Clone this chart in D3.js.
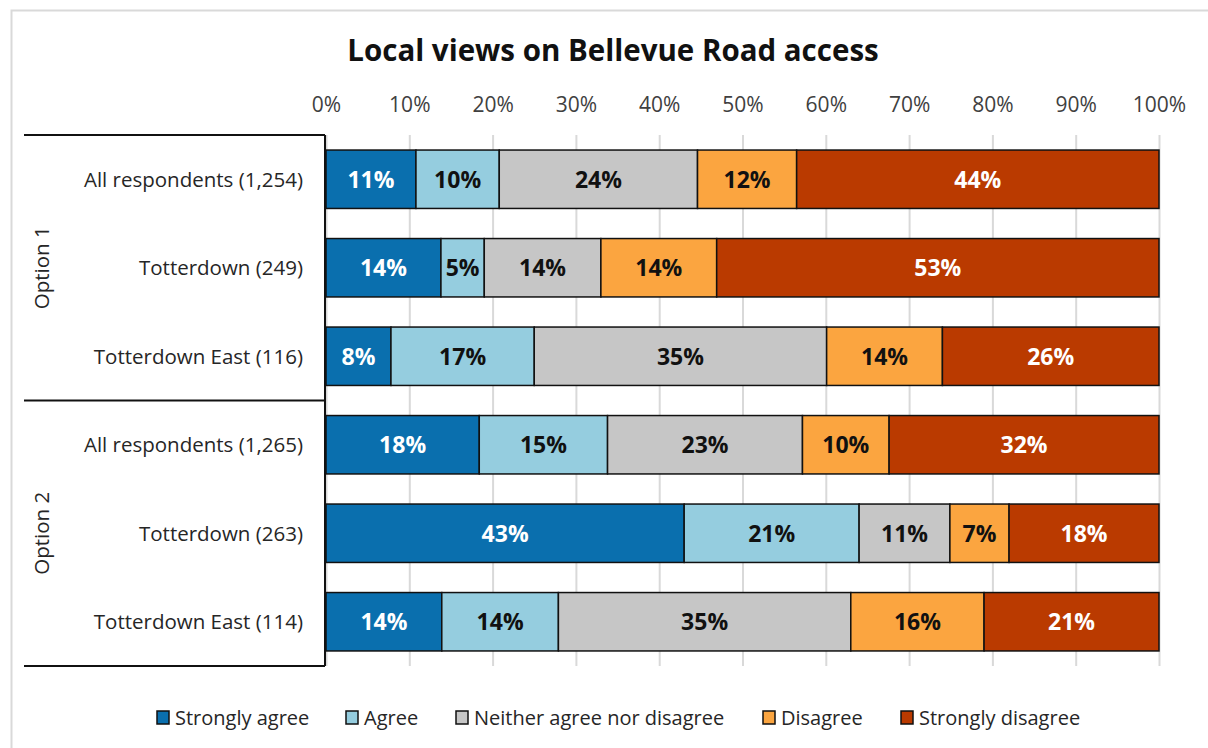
<!DOCTYPE html>
<html>
<head>
<meta charset="utf-8">
<script src="https://cdn.jsdelivr.net/npm/d3@7"></script>
<style>
  body { margin: 0; background: #fff; }
  svg text { font-family: "Open Sans", Lato, sans-serif; }
</style>
</head>
<body>
<div id="chart"></div>
<script>
// data
var rows = ["All respondents (1,254)", "Totterdown (249)", "Totterdown East (116)",
            "All respondents (1,265)", "Totterdown (263)", "Totterdown East (114)"];
var groups = ["Option 1", "Option 2"];
var seriesNames = ["Strongly agree", "Agree", "Neither agree nor disagree", "Disagree", "Strongly disagree"];
var stronglyAgree = [10.8, 13.8, 7.8, 18.4, 43.0, 13.9];
var agree = [10.0, 5.2, 17.2, 15.4, 21.0, 14.0];
var neither = [23.8, 14.0, 35.1, 23.4, 10.9, 35.1];
var disagree = [11.9, 13.9, 13.9, 10.4, 7.1, 16.0];
var stronglyDisagree = [43.5, 53.1, 26.0, 32.4, 18.0, 21.0];
var ticks = [0, 10, 20, 30, 40, 50, 60, 70, 80, 90, 100];

var colors = ["#0a6fae", "#95cddf", "#c6c6c6", "#fba540", "#ba3a00"];
var labelColors = ["#fff", "#111", "#111", "#111", "#fff"];

var svgWidth = 1208, svgHeight = 748;
var plot = { left: 326, right: 1159, top: 135, bottom: 666 };

var svg = d3.select("#chart").append("svg")
  .attr("width", svgWidth)
  .attr("height", svgHeight);

// chart frame
svg.append("rect")
  .attr("x", 11.5).attr("y", 10.5)
  .attr("width", 1220).attr("height", 760)
  .attr("fill", "#fff").attr("stroke", "#d9d9d9").attr("stroke-width", 2);

svg.append("text")
  .attr("x", 613).attr("y", 61)
  .attr("text-anchor", "middle")
  .attr("font-size", "29.5px").attr("font-weight", "bold")
  .attr("fill", "#111")
  .text("Local views on Bellevue Road access");

var x = d3.scaleLinear().domain([0, 100]).range([plot.left, plot.right]);
var y = d3.scaleBand().domain(rows).range([plot.top, plot.bottom])
  .paddingInner(0.34).paddingOuter(0.17);

// top axis + gridlines
var xAxis = d3.axisTop(x)
  .tickValues(ticks)
  .tickFormat(d => d + "%")
  .tickSizeInner(-(plot.bottom - plot.top))
  .tickSizeOuter(0)
  .tickPadding(23);

var ax = svg.append("g")
  .attr("transform", `translate(0, ${plot.top})`)
  .call(xAxis);
ax.select(".domain").remove();
ax.selectAll(".tick line").attr("stroke", "#d9d9d9").attr("stroke-width", 2);
ax.selectAll(".tick text")
  .attr("font-size", "21px").attr("fill", "#404040")
  .attr("font-family", "'Open Sans', Lato, sans-serif");

// stacked bars
var table = rows.map(function(r, i) {
  return { row: r, vals: [stronglyAgree[i], agree[i], neither[i], disagree[i], stronglyDisagree[i]] };
});

var stack = d3.stack().keys([0, 1, 2, 3, 4]).value((d, k) => d.vals[k]);
var layers = stack(table);

var layerG = svg.selectAll(".layer").data(layers).enter()
  .append("g").attr("class", "layer");

layerG.selectAll("rect").data(d => d).enter()
  .append("rect")
  .attr("x", d => x(d[0]))
  .attr("y", d => y(d.data.row))
  .attr("width", d => x(d[1]) - x(d[0]))
  .attr("height", y.bandwidth())
  .attr("fill", function() { return colors[d3.select(this.parentNode).datum().key]; })
  .attr("stroke", "#111")
  .attr("stroke-width", 1.5);

layerG.selectAll("text").data(d => d).enter()
  .append("text")
  .attr("x", d => (x(d[0]) + x(d[1])) / 2)
  .attr("y", d => y(d.data.row) + y.bandwidth() / 2)
  .attr("dy", "0.36em")
  .attr("text-anchor", "middle")
  .attr("font-size", "23px").attr("font-weight", "bold")
  .attr("fill", function() { return labelColors[d3.select(this.parentNode).datum().key]; })
  .text(d => Math.round(d[1] - d[0]) + "%");

// category labels
svg.selectAll(".rowLabel").data(rows).enter()
  .append("text")
  .attr("class", "rowLabel")
  .attr("x", 303)
  .attr("y", d => y(d) + y.bandwidth() / 2)
  .attr("dy", "0.36em")
  .attr("text-anchor", "end")
  .attr("font-size", "20.5px").attr("fill", "#262626")
  .text(d => d);

// group brackets
var half = (plot.bottom - plot.top) / 2;
var lines = [plot.top, plot.top + half, plot.bottom];
svg.selectAll(".sep").data(lines).enter()
  .append("line")
  .attr("x1", 24).attr("x2", plot.left - 1)
  .attr("y1", d => d).attr("y2", d => d)
  .attr("stroke", "#111").attr("stroke-width", 2);

svg.append("line")
  .attr("x1", plot.left - 1).attr("x2", plot.left - 1)
  .attr("y1", plot.top).attr("y2", plot.bottom)
  .attr("stroke", "#111").attr("stroke-width", 2);

svg.selectAll(".group").data(groups).enter()
  .append("text")
  .attr("transform", (d, i) => `translate(42, ${plot.top + half * i + half / 2}) rotate(-90)`)
  .attr("dy", "0.36em")
  .attr("text-anchor", "middle")
  .attr("font-size", "20.5px").attr("fill", "#262626")
  .text(d => d);

// legend
var legendX = [157, 346, 456, 763, 901];
var leg = svg.selectAll(".leg").data(seriesNames).enter()
  .append("g")
  .attr("transform", (d, i) => `translate(${legendX[i]}, 718)`);

leg.append("rect")
  .attr("x", 0).attr("y", -7)
  .attr("width", 12).attr("height", 13)
  .attr("fill", (d, i) => colors[i])
  .attr("stroke", "#111").attr("stroke-width", 1.5);

leg.append("text")
  .attr("x", 18)
  .attr("dy", "0.36em")
  .attr("font-size", "20px").attr("fill", "#262626")
  .text(d => d);
</script>
</body>
</html>
